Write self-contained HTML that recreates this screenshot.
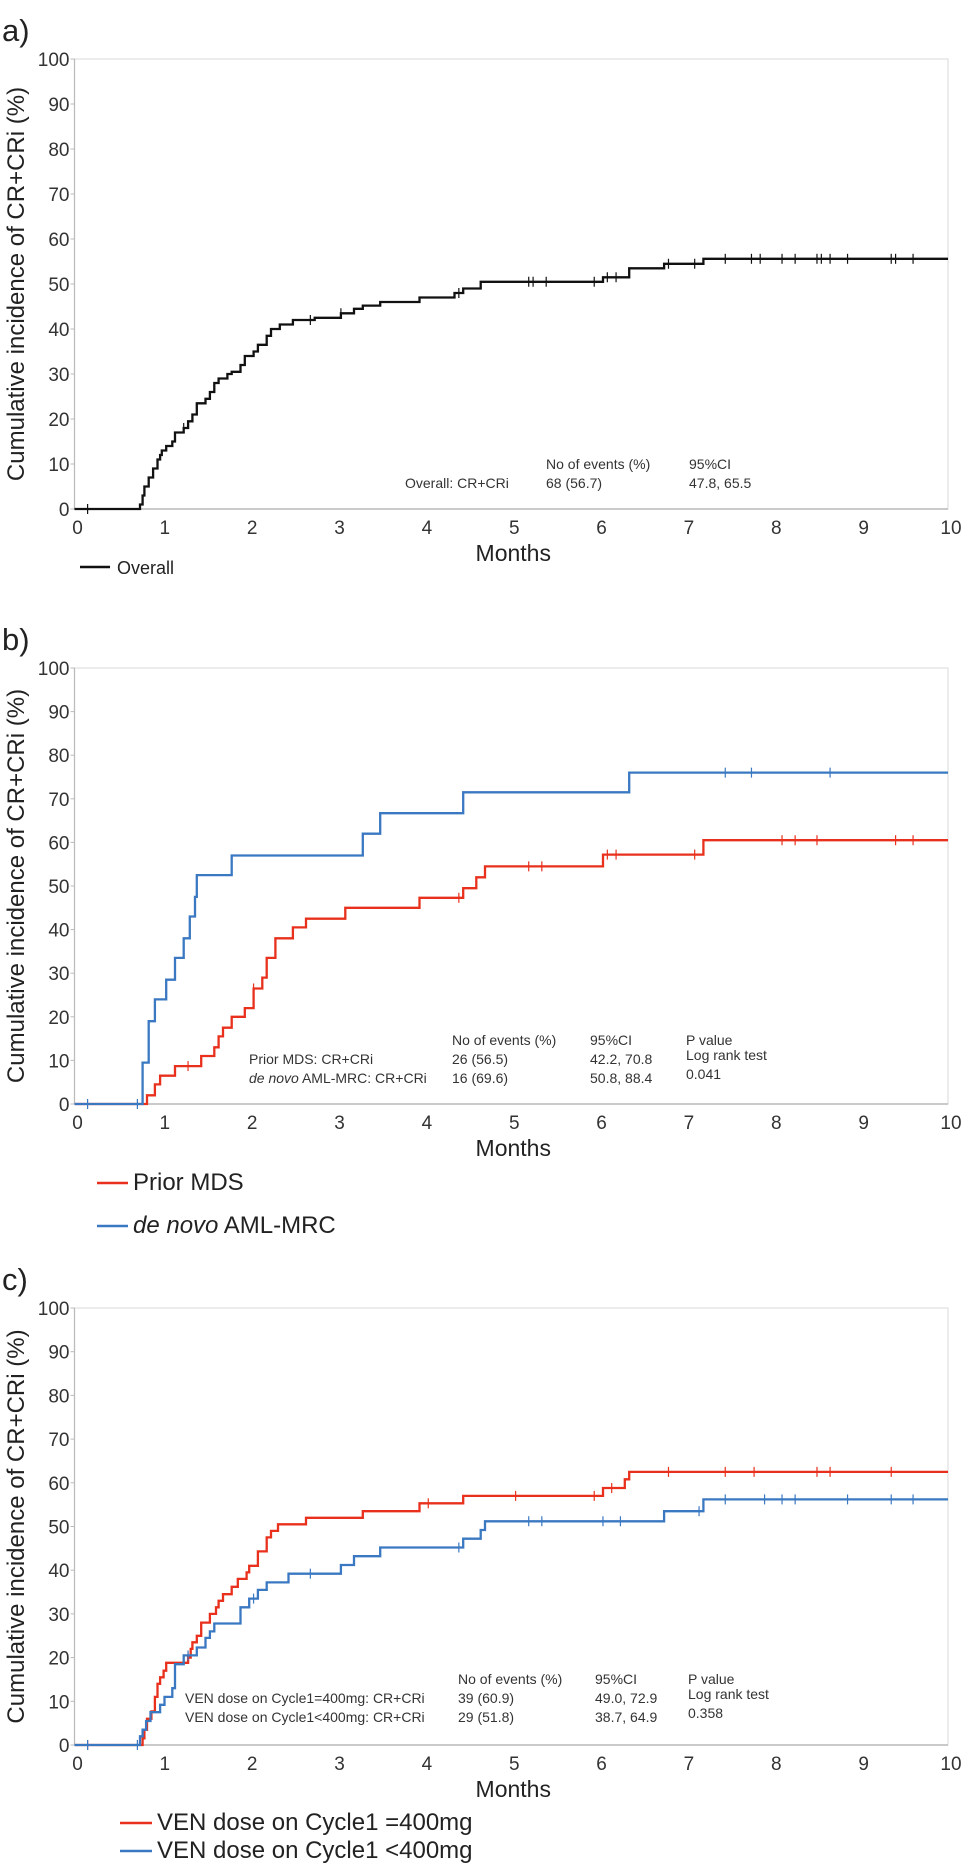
<!DOCTYPE html>
<html><head><meta charset="utf-8">
<style>
html,body{margin:0;padding:0;background:#fff;}
svg{display:block;font-family:"Liberation Sans",sans-serif;}
</style></head>
<body>
<svg id="chart" width="968" height="1863" viewBox="0 0 968 1863" xmlns="http://www.w3.org/2000/svg"></svg>
<script>
// ---------- Data ----------
const xTicks = [0,1,2,3,4,5,6,7,8,9,10];
const yTicks = [0,10,20,30,40,50,60,70,80,90,100];

// Panel a: overall
const aTimes = [0.75,0.78,0.8,0.85,0.9,0.95,0.98,1.0,1.05,1.12,1.15,1.25,1.3,1.35,1.4,1.5,1.55,1.6,1.65,1.75,1.8,1.9,1.95,2.05,2.1,2.2,2.25,2.35,2.5,2.75,3.05,3.2,3.3,3.5,3.95,4.35,4.45,4.65,6.05,6.35,6.75,7.2];
const aValues = [1,3,5,7,9,11,12,13,14,15,17,18,19.5,21,23.5,24.5,26,28,29,30,30.5,32,34,35,36.5,38.5,40,41,42,42.5,43.5,44.5,45.2,46,47,48,49,50.5,51.5,53.5,54.5,55.6];
const aCensor = [0.15,1.25,2.7,3.05,4.4,5.2,5.25,5.4,5.95,6.1,6.2,6.8,7.1,7.45,7.75,7.85,8.1,8.25,8.5,8.55,8.65,8.85,9.35,9.4,9.6];

// Panel b
const bBlueTimes = [0.78,0.85,0.92,1.05,1.15,1.25,1.32,1.38,1.4,1.8,3.3,3.5,4.45,6.35];
const bBlueValues = [9.5,19,24,28.5,33.5,38,43,47.5,52.5,57,62,66.7,71.5,76];
const bBlueCensor = [0.15,0.72,7.45,7.75,8.65];
const bRedTimes = [0.83,0.92,0.98,1.15,1.45,1.6,1.65,1.7,1.8,1.95,2.05,2.15,2.2,2.3,2.5,2.65,3.1,3.95,4.45,4.6,4.7,6.05,7.2];
const bRedValues = [2,4.5,6.5,8.7,11,13,15.5,17.5,20,22,26.5,29,33.5,38,40.5,42.5,45,47.3,49.5,52,54.5,57.2,60.5];
const bRedCensor = [1.3,2.05,4.4,5.2,5.35,6.1,6.2,7.1,8.1,8.25,8.5,9.4,9.6];

// Panel c
const cRedTimes = [0.78,0.8,0.83,0.88,0.92,0.95,0.98,1.02,1.05,1.3,1.33,1.35,1.4,1.45,1.55,1.62,1.65,1.7,1.8,1.87,1.97,2.0,2.1,2.2,2.25,2.33,2.65,3.3,3.95,4.45,6.05,6.3,6.35];
const cRedValues = [1.5,3.5,6,7.7,11,14,15.5,17,18.8,20,22,23.5,25,28,30,31.5,33,34.5,36.2,38,39.5,41,44.3,47.5,49,50.5,52,53.5,55.3,57,58.8,60.8,62.5];
const cRedCensor = [0.15,1.3,4.05,5.05,5.95,6.15,6.8,7.45,7.78,8.5,8.65,9.35];
const cBlueTimes = [0.75,0.78,0.82,0.87,0.98,1.03,1.12,1.15,1.25,1.4,1.5,1.55,1.6,1.9,2.0,2.1,2.2,2.45,3.05,3.2,3.5,4.45,4.65,4.7,6.75,7.2];
const cBlueValues = [2,3.5,5.5,7.5,9.2,11,13,18.5,20.5,22.3,24.5,26,27.8,31.5,33.5,35.5,37.2,39.2,41.2,43.2,45.2,47.2,49.2,51.2,53.5,56.2];
const cBlueCensor = [0.15,0.72,1.3,2.05,2.7,4.4,5.2,5.35,6.05,6.25,7.15,7.45,7.9,8.1,8.25,8.85,9.35,9.6];

// ---------- Drawing ----------
const NS = "http://www.w3.org/2000/svg";
const svg = document.getElementById('chart');
const X0 = 74.5, X1 = 948;
function mk(tag, attrs, parent, text){
  const e = document.createElementNS(NS, tag);
  for (const k in attrs) e.setAttribute(k, attrs[k]);
  if (text !== undefined) e.textContent = text;
  (parent||svg).appendChild(e);
  return e;
}
function xScale(m){ return X0 + (X1-X0)*m/10; }

function panel(id, label, top, bottom, series){
  const g = mk('g', {});
  
  
  const yScale = v => bottom - (bottom-top)*v/100;
  const pl = mk('text', {x:2, y:top-18, 'font-size':31, fill:'#222'}, g, label);
  
  
  const frame = mk('rect', {x:X0, y:top, width:X1-X0, height:bottom-top, fill:'none', stroke:'#e0e0e0', 'stroke-width':1.2}, g);
  
  
  mk('line', {x1:X0, y1:top, x2:X0, y2:bottom, stroke:'#bbb', 'stroke-width':1.2}, g);
  mk('line', {x1:X0, y1:bottom, x2:X1, y2:bottom, stroke:'#bbb', 'stroke-width':1.5}, g);
  yTicks.forEach(t => {
    const y = yScale(t);
    mk('line', {x1:X0-4, y1:y, x2:X0, y2:y, stroke:'#bbb'}, g);
    const tl = mk('text', {x:X0-5, y:y+7, 'font-size':19, 'text-anchor':'end', fill:'#333'}, g, String(t));
    
    
  });
  xTicks.forEach(t => {
    const x = xScale(t);
    const tl = mk('text', {x:x+3, y:bottom+25, 'font-size':19, 'text-anchor':'middle', fill:'#333'}, g, String(t));
    
    
  });
  const xt = mk('text', {x:(X0+X1)/2+2, y:bottom+52, 'font-size':23, 'text-anchor':'middle', fill:'#222'}, g, 'Months');
  
  
  const cy = (top+bottom)/2;
  const yt = mk('text', {x:0, y:0, 'font-size':24, 'text-anchor':'middle', fill:'#222', transform:'translate(24,'+cy+') rotate(-90)'}, g, 'Cumulative incidence of CR+CRi (%)');
  
  

  series.forEach(s => {
    let d = 'M' + xScale(0) + ' ' + yScale(0);
    s.times.forEach((t,i) => {
      d += ' H' + xScale(t).toFixed(1) + ' V' + yScale(s.values[i]).toFixed(1);
    });
    d += ' H' + xScale(10);
    const p = mk('path', {d:d, fill:'none', stroke:s.color, 'stroke-width':2.3}, g);
    
    
    s.censor.forEach(c => {
      let v = 0;
      s.times.forEach((t,i) => { if (t <= c) v = s.values[i]; });
      const x = xScale(c), y = yScale(v);
      const m = mk('line', {x1:x, y1:y-5, x2:x, y2:y+5, stroke:s.color, 'stroke-width':1.2}, g);
      
      
    });
  });
  return {g, yScale};
}
function txt(parent, x, y, str, size, name, extra){
  const t = mk('text', Object.assign({x:x, y:y, 'font-size':size, fill:'#333'}, extra||{}), parent, str);
  
  
  return t;
}
function legend(parent, x1, x2, y, color, textX, str, size, name, italicPart){
  const l = mk('line', {x1:x1, y1:y, x2:x2, y2:y, stroke:color, 'stroke-width':2.5}, parent);
  
  
  const t = mk('text', {x:textX, y:y+7, 'font-size':size, fill:'#222'}, parent);
  
  
  if (italicPart){
    mk('tspan', {'font-style':'italic'}, t, italicPart);
    mk('tspan', {}, t, str);
  } else t.textContent = str;
}

// Panel a
const pa = panel('a', 'a)', 59, 509, [{name:'overall', color:'#111', times:aTimes, values:aValues, censor:aCensor}]);
txt(pa.g, 546, 469, 'No of events (%)', 14, 'stats-header-events');
txt(pa.g, 689, 469, '95%CI', 14, 'stats-header-ci');
txt(pa.g, 405, 488, 'Overall: CR+CRi', 14, 'stats-row-label');
txt(pa.g, 546, 488, '68 (56.7)', 14, 'stats-row-events');
txt(pa.g, 689, 488, '47.8, 65.5', 14, 'stats-row-ci');
legend(pa.g, 80, 110, 567, '#111', 117, 'Overall', 18, 'legend-overall');

// Panel b
const pb = panel('b', 'b)', 668, 1104, [
  {name:'prior-mds', color:'#e8301c', times:bRedTimes, values:bRedValues, censor:bRedCensor},
  {name:'de-novo-aml-mrc', color:'#3a78c2', times:bBlueTimes, values:bBlueValues, censor:bBlueCensor}
]);
txt(pb.g, 452, 1045, 'No of events (%)', 14, 'stats-header-events');
txt(pb.g, 590, 1045, '95%CI', 14, 'stats-header-ci');
txt(pb.g, 686, 1045, 'P value', 14, 'stats-header-p');
txt(pb.g, 249, 1064, 'Prior MDS: CR+CRi', 14, 'stats-row-prior-mds');
txt(pb.g, 452, 1064, '26 (56.5)', 14, 'stats-events-prior-mds');
txt(pb.g, 590, 1064, '42.2, 70.8', 14, 'stats-ci-prior-mds');
txt(pb.g, 686, 1060, 'Log rank test', 14, 'stats-p-test');
const r2 = mk('text', {x:249, y:1083, 'font-size':14, fill:'#333'}, pb.g);


mk('tspan', {'font-style':'italic'}, r2, 'de novo');
mk('tspan', {}, r2, ' AML-MRC: CR+CRi');
txt(pb.g, 452, 1083, '16 (69.6)', 14, 'stats-events-de-novo');
txt(pb.g, 590, 1083, '50.8, 88.4', 14, 'stats-ci-de-novo');
txt(pb.g, 686, 1079, '0.041', 14, 'stats-p-value');
legend(pb.g, 97, 128, 1183, '#e8301c', 133, 'Prior MDS', 24, 'legend-prior-mds');
legend(pb.g, 97, 128, 1226, '#3a78c2', 133, ' AML-MRC', 24, 'legend-de-novo', 'de novo');

// Panel c
const pc = panel('c', 'c)', 1308, 1745, [
  {name:'ven-400', color:'#e8301c', times:cRedTimes, values:cRedValues, censor:cRedCensor},
  {name:'ven-lt-400', color:'#3a78c2', times:cBlueTimes, values:cBlueValues, censor:cBlueCensor}
]);
txt(pc.g, 458, 1684, 'No of events (%)', 14, 'stats-header-events');
txt(pc.g, 595, 1684, '95%CI', 14, 'stats-header-ci');
txt(pc.g, 688, 1684, 'P value', 14, 'stats-header-p');
txt(pc.g, 185, 1703, 'VEN dose on Cycle1=400mg: CR+CRi', 14, 'stats-row-ven-400');
txt(pc.g, 458, 1703, '39 (60.9)', 14, 'stats-events-ven-400');
txt(pc.g, 595, 1703, '49.0, 72.9', 14, 'stats-ci-ven-400');
txt(pc.g, 688, 1699, 'Log rank test', 14, 'stats-p-test');
txt(pc.g, 185, 1722, 'VEN dose on Cycle1<400mg: CR+CRi', 14, 'stats-row-ven-lt-400');
txt(pc.g, 458, 1722, '29 (51.8)', 14, 'stats-events-ven-lt-400');
txt(pc.g, 595, 1722, '38.7, 64.9', 14, 'stats-ci-ven-lt-400');
txt(pc.g, 688, 1718, '0.358', 14, 'stats-p-value');
legend(pc.g, 120, 152, 1823, '#e8301c', 157, 'VEN dose on Cycle1 =400mg', 24, 'legend-ven-400');
legend(pc.g, 120, 152, 1851, '#3a78c2', 157, 'VEN dose on Cycle1 <400mg', 24, 'legend-ven-lt-400');
</script>
</body></html>
